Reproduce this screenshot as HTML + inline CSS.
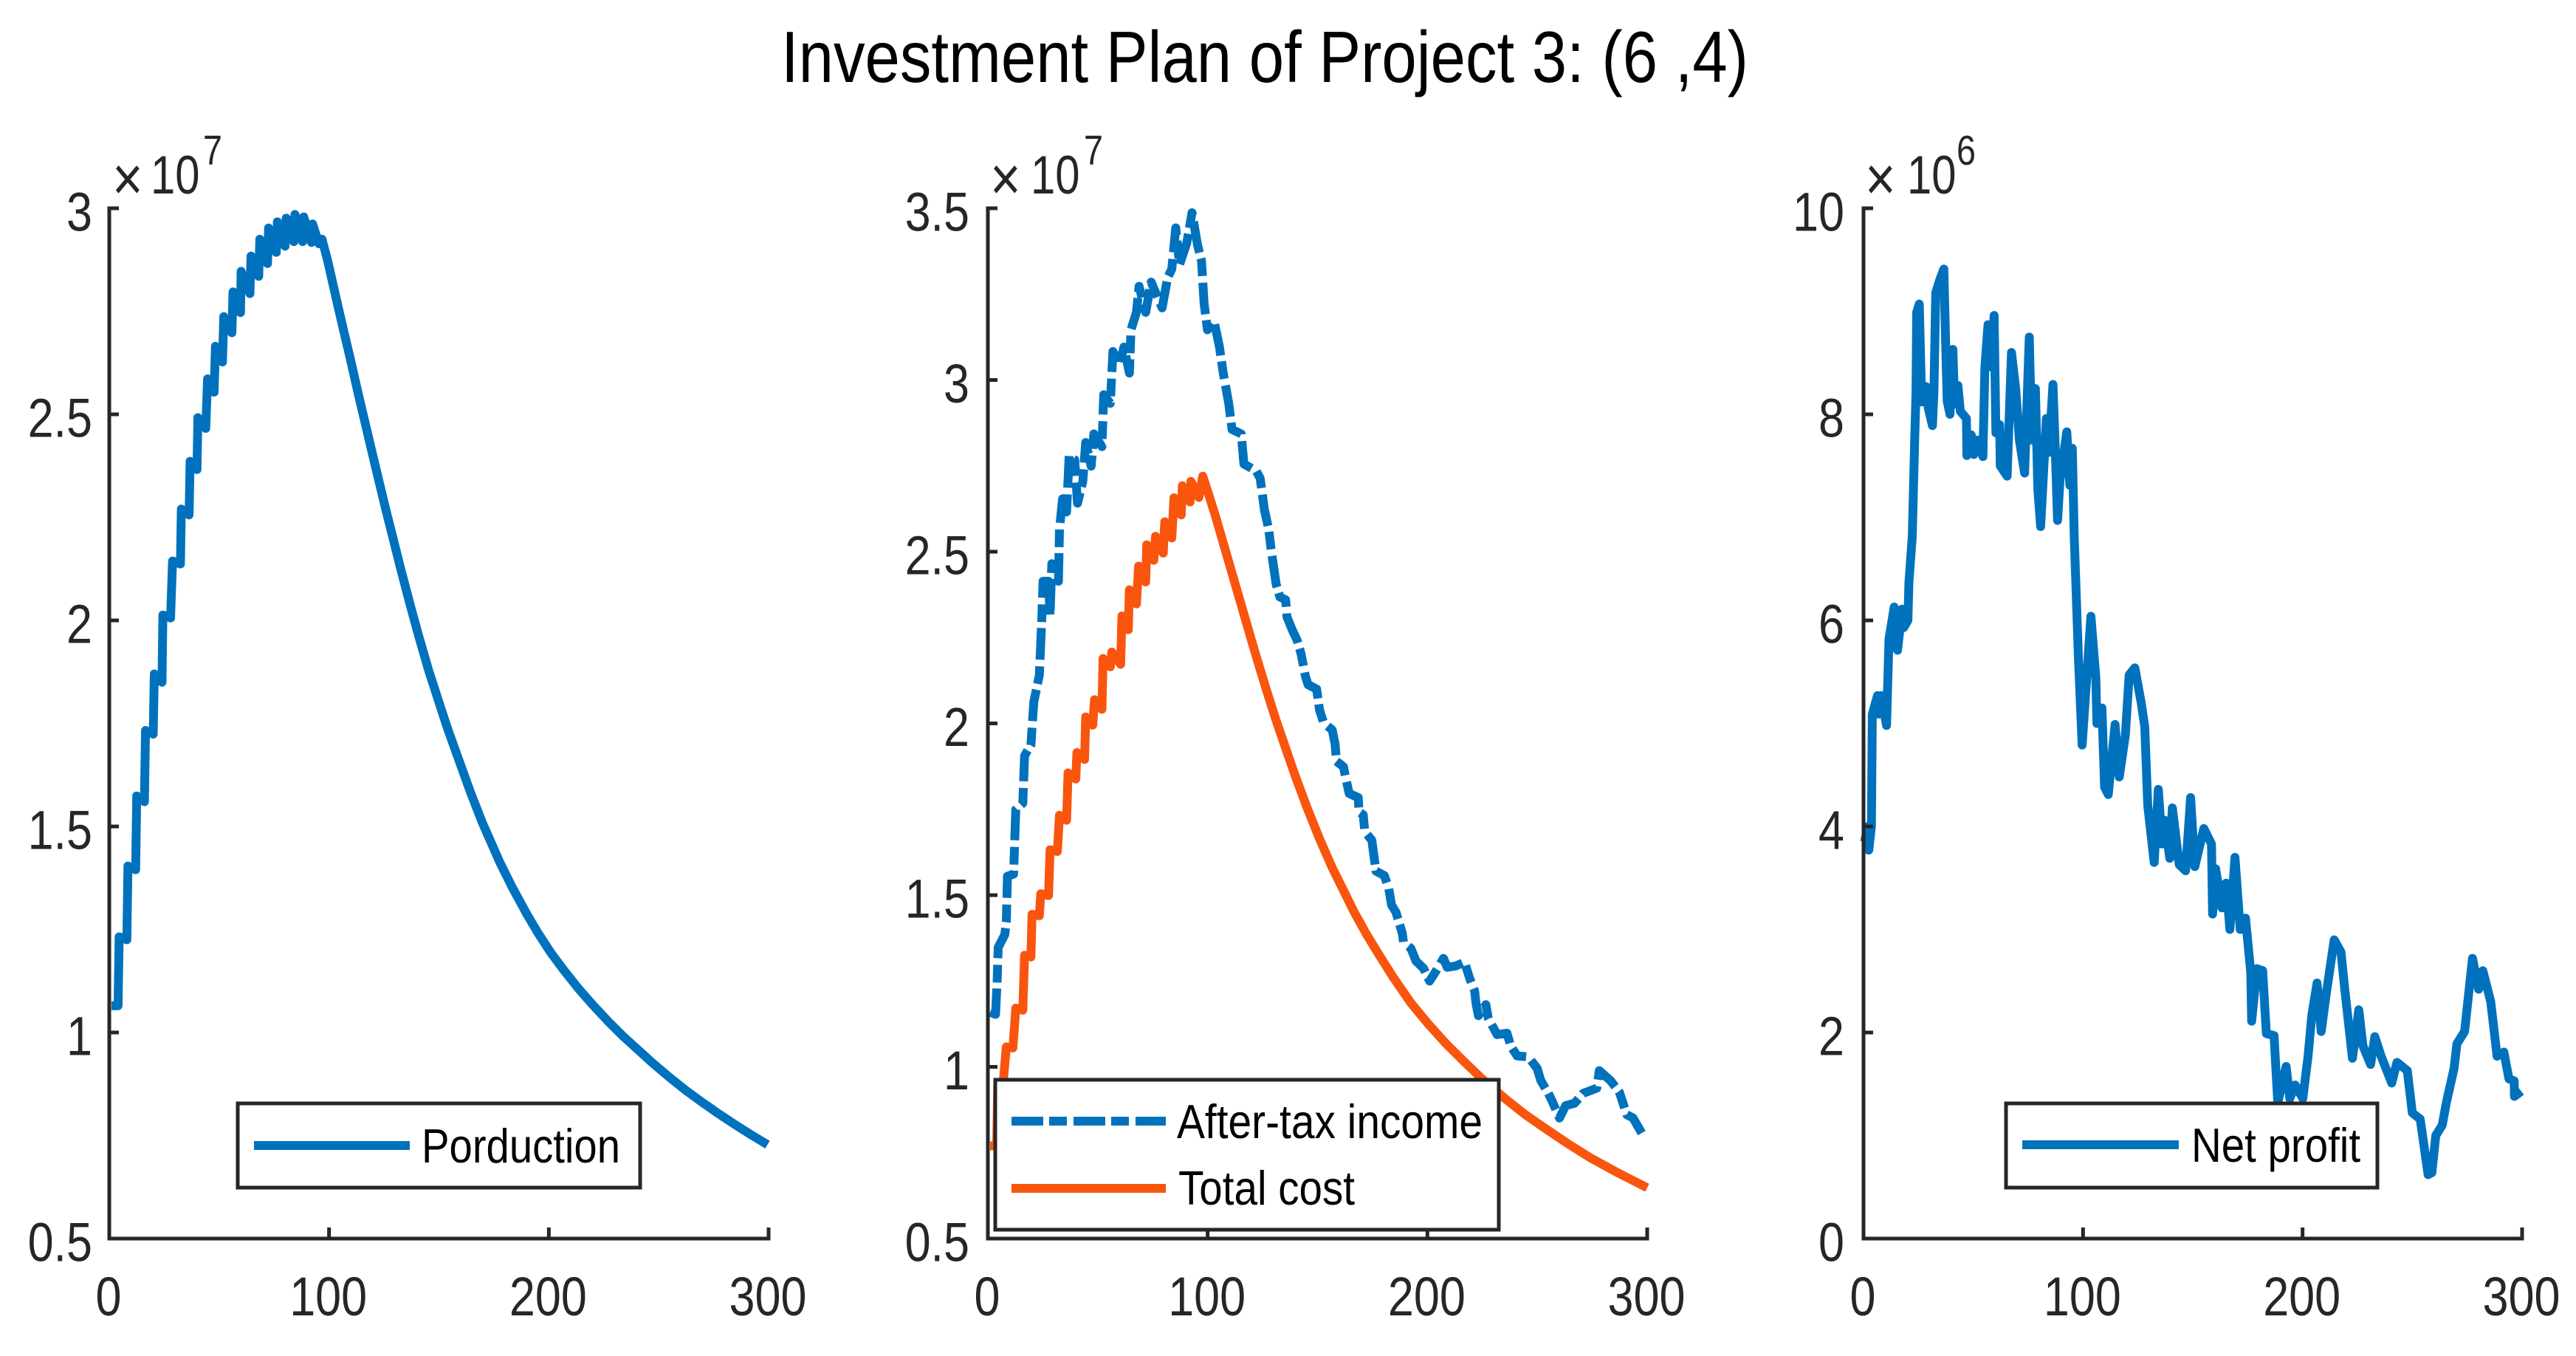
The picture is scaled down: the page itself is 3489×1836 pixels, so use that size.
<!DOCTYPE html>
<html lang="en">
<head>
<meta charset="utf-8">
<title>Investment Plan of Project 3</title>
<style>
html,body{margin:0;padding:0;background:#fff}
svg{display:block;font-family:"Liberation Sans",Arial,sans-serif}
</style>
</head>
<body>
<svg id="chart" xmlns="http://www.w3.org/2000/svg" width="3489" height="1836" viewBox="0 0 3489 1836">
<rect width="3489" height="1836" fill="#fff"/>
<text x="1058" y="111" font-size="98" fill="#000" textLength="1310" lengthAdjust="spacingAndGlyphs">Investment Plan of Project 3: (6 ,4)</text>
</svg>
<script>
const xTicks = [0, 100, 200, 300];
const xTickLabels = ['0', '100', '200', '300'];

const productionTicks = [0.5, 1, 1.5, 2, 2.5, 3];
const productionTickLabels = ['0.5', '1', '1.5', '2', '2.5', '3'];
const incomeTicks = [0.5, 1, 1.5, 2, 2.5, 3, 3.5];
const incomeTickLabels = ['0.5', '1', '1.5', '2', '2.5', '3', '3.5'];
const profitTicks = [0, 2, 4, 6, 8, 10];
const profitTickLabels = ['0', '2', '4', '6', '8', '10'];

const productionX = [1,4,4.5,8,8.5,12,12.5,16,16.5,20,20.5,24,24.4,27.9,28.8,32.4,32.8,36.3,36.8,39.9,40.3,43.9,44.7,47.7,48.3,51.5,52.1,55.8,56.3,59.7,60,64,64.5,68,68.5,72,72.5,76,76.5,80,80.5,84,84.5,88,88.5,92,92.5,95.4,96.8,99.4,101.7,104.2,107,109.8,112.3,114.6,117.3,120.1,122.9,125.9,128.1,132.9,136.8,140.6,145.3,150.7,154.1,158.8,164.4,169.7,177.6,183.2,189.9,195,201,207,213.6,220,227,234,241,247,254.5,262,269.4,277,284.3,292,299.5];
const productionY = [1.065,1.065,1.232,1.225,1.404,1.395,1.574,1.56,1.733,1.724,1.87,1.85,2.013,2.006,2.144,2.137,2.27,2.256,2.386,2.366,2.492,2.466,2.586,2.554,2.665,2.627,2.737,2.698,2.797,2.747,2.847,2.793,2.884,2.835,2.925,2.866,2.952,2.893,2.967,2.908,2.976,2.919,2.985,2.919,2.979,2.917,2.962,2.914,2.925,2.872,2.818,2.759,2.695,2.632,2.573,2.52,2.459,2.396,2.334,2.267,2.221,2.119,2.04,1.966,1.879,1.79,1.735,1.665,1.582,1.51,1.414,1.354,1.288,1.242,1.193,1.15,1.106,1.067,1.027,0.99,0.956,0.927,0.893,0.861,0.832,0.804,0.778,0.752,0.728];

const incomeX = [1,3.5,4.2,4.7,7.7,8.4,8.9,11.7,12.7,15.9,16.7,19.6,20.9,23.4,24.6,25.1,27.6,28.3,29.1,32.1,32.6,34,35.8,37,39.5,40.8,43.2,44.5,47,48.2,51.9,52.7,55.7,56.9,59.9,61.9,64.4,65.1,67.6,68.8,71.8,74.3,79.3,81.8,83.7,85.5,87.2,90.5,92.9,95.4,97.2,98.4,99.9,102.9,105.4,107.1,109.6,111.1,115.3,116.5,122,123.9,125.8,127.8,129,131.2,132.9,135.5,136.1,138.7,140.6,142.5,144.5,145.7,149.6,150.9,152.8,156.7,158,158.6,161.8,163.1,164.4,168.5,168.9,170.8,171.5,174.7,176.6,180.4,182.4,183.7,185.7,188.6,189.1,192.5,194.8,198.2,201,203.9,207.3,209,213,216.9,219.2,221.5,222.1,223.2,226.6,227.7,231.7,236.2,237.9,240.8,245.9,249.9,251.6,255,256.7,260.1,262.9,266.9,270.9,277.1,278.2,283.3,287.3,290.7,293.6,297.5];
const incomeY = [1.159,1.153,1.247,1.348,1.385,1.423,1.555,1.561,1.749,1.768,1.906,1.937,2.063,2.14,2.313,2.414,2.414,2.313,2.465,2.414,2.566,2.654,2.616,2.78,2.768,2.641,2.705,2.818,2.749,2.843,2.806,2.957,2.932,3.083,3.045,3.096,3.02,3.146,3.197,3.273,3.197,3.285,3.21,3.298,3.323,3.443,3.336,3.399,3.487,3.393,3.348,3.222,3.146,3.172,3.096,3.02,2.932,2.856,2.843,2.755,2.736,2.714,2.623,2.565,2.5,2.405,2.368,2.36,2.31,2.269,2.244,2.203,2.137,2.113,2.1,2.039,2.002,1.981,1.94,1.89,1.874,1.833,1.796,1.784,1.742,1.734,1.685,1.66,1.57,1.557,1.52,1.471,1.45,1.388,1.363,1.345,1.308,1.287,1.25,1.279,1.316,1.29,1.294,1.305,1.258,1.221,1.185,1.149,1.181,1.141,1.094,1.098,1.061,1.032,1.029,0.996,0.96,0.923,0.901,0.851,0.887,0.894,0.923,0.938,0.989,0.96,0.927,0.861,0.851,0.807];

const costX = [1,4,4.5,7,8.4,11.4,12.7,15.9,16.7,19.6,20.1,23.4,24.1,27.6,28.3,31.6,32.6,35.8,36.5,40,40.5,44,44.5,47.7,48.5,51.9,52.4,55.7,56.4,60.4,61,63.9,64.4,67.6,68.6,71.8,72.3,75.5,76.3,79.8,80.5,83.7,84.7,88,88.5,92,92.4,96,97.8,103.4,109.2,113,117.5,122,126.5,131,135.5,140,145.1,150.9,156.7,163.2,166.4,172.1,177.8,184.5,192.5,200.4,208.4,217.5,225.4,235.6,244.7,254.9,264,274.2,285.6,300];
const costY = [0.77,0.77,0.95,0.955,1.058,1.055,1.171,1.165,1.325,1.32,1.444,1.44,1.504,1.499,1.632,1.627,1.733,1.718,1.856,1.838,1.915,1.895,2.019,1.995,2.069,2.041,2.189,2.165,2.208,2.172,2.313,2.273,2.389,2.348,2.458,2.412,2.52,2.475,2.545,2.496,2.587,2.54,2.657,2.607,2.692,2.645,2.705,2.658,2.72,2.607,2.479,2.395,2.296,2.197,2.103,2.012,1.928,1.845,1.757,1.664,1.58,1.496,1.454,1.388,1.328,1.26,1.186,1.125,1.068,1.01,0.962,0.906,0.86,0.815,0.776,0.735,0.695,0.648];

const profitX = [0.5,2,2.4,3.6,4,6.4,6.9,8,10.5,11.6,14,15.5,17.6,18.3,20.2,20.7,22.2,23.3,23.9,24.2,25.4,26.1,26.5,28.4,29.5,31.4,32.1,32.9,34.8,36.6,37.4,38.1,39.4,40.7,41.5,43,44.1,46.9,47.1,49.1,50.2,51.9,54.4,55.3,56.7,58.1,59.5,60.3,62,62.3,65.4,67.4,69.3,71,73.4,75.5,76.6,78.3,79.4,80.7,83.3,84.4,86.3,87.2,88.4,89.5,92.6,94,95.1,96,97.9,99.6,103.6,105.8,106.3,108.6,109.8,111.5,114.6,116.5,119.3,121,123.6,126.5,128.1,129.5,132.4,134.3,136,137.2,139.5,140.7,143.8,146.7,149,150.9,155,158.5,159,160.4,163.3,165.2,166.9,169.2,171.6,174,176.4,176.8,179.2,181.8,183.5,187,188.7,192.5,194.2,196.6,200.1,202.5,204.2,206.6,208.5,210.8,214.4,217.5,219.2,222.7,225.6,227.5,231,232.9,235.8,240.6,243,247.7,250,253.6,257.2,258.9,260.7,263.6,265.5,269,270.3,273.8,277.4,280.2,282.1,285.7,288.6,291.7,294,296.4,296.5,299.6];
const profitY = [3.85,4.0,3.77,4.0,5.09,5.27,5.09,5.27,4.98,5.82,6.13,5.71,6.11,5.93,6.0,6.37,6.81,7.75,8.22,8.99,9.07,8.46,8.12,8.27,8.06,7.89,8.22,9.18,9.31,9.41,8.7,8.13,8.0,8.63,8.1,8.28,8.03,7.96,7.6,7.8,7.61,7.75,7.59,8.46,8.87,8.46,8.96,7.82,7.9,7.5,7.4,8.6,8.25,7.75,7.43,8.75,7.75,8.25,7.27,6.91,7.96,7.63,8.29,7.75,6.97,7.36,7.83,7.31,7.67,6.81,5.63,4.79,6.04,5.45,5.0,5.15,4.38,4.31,4.99,4.48,4.89,5.47,5.54,5.2,4.97,4.2,3.65,4.36,3.83,4.06,3.69,4.18,3.63,3.57,4.28,3.61,3.98,3.83,3.15,3.59,3.21,3.45,3.0,3.7,3.0,3.11,2.58,2.11,2.62,2.6,1.99,1.97,1.32,1.67,1.36,1.49,1.36,1.77,2.17,2.48,2.01,2.38,2.9,2.78,2.42,1.75,2.22,1.87,1.69,1.96,1.77,1.51,1.71,1.63,1.22,1.16,0.62,0.64,1.0,1.1,1.32,1.65,1.89,2.01,2.72,2.42,2.6,2.3,1.77,1.81,1.55,1.53,1.38,1.43];

const svg = document.getElementById('chart');
const NS = 'http://www.w3.org/2000/svg';
const BLUE = '#0072BD';
const ORANGE = '#F9550E';
const INK = '#262626';
const PLOT_TOP = 282;
const PLOT_BOTTOM = 1677;

function scaleX(value, left, right) {
  return left + (value - xTicks[0]) / (xTicks[xTicks.length - 1] - xTicks[0]) * (right - left);
}
function scaleY(value, ticks) {
  const lo = ticks[0];
  const hi = ticks[ticks.length - 1];
  return PLOT_BOTTOM - (value - lo) / (hi - lo) * (PLOT_BOTTOM - PLOT_TOP);
}
function addLine(parent, x1, y1, x2, y2) {
  const el = document.createElementNS(NS, 'line');
  el.setAttribute('x1', x1);
  el.setAttribute('y1', y1);
  el.setAttribute('x2', x2);
  el.setAttribute('y2', y2);
  el.setAttribute('stroke', INK);
  el.setAttribute('stroke-width', 5);
  parent.appendChild(el);
  return el;
}
function addText(parent, content, x, y, size, anchor, sx, fill) {
  const el = document.createElementNS(NS, 'text');
  el.setAttribute('transform', 'translate(' + x + ',' + y + ') scale(' + sx + ',1)');
  el.setAttribute('font-size', size);
  el.setAttribute('text-anchor', anchor);
  el.setAttribute('fill', fill);
  el.textContent = content;
  parent.appendChild(el);
  return el;
}
function addSeries(parent, xs, ys, ticks, left, right, color, dash) {
  const el = document.createElementNS(NS, 'polyline');
  const pts = xs.map(function (v, i) {
    return scaleX(v, left, right).toFixed(1) + ',' + scaleY(ys[i], ticks).toFixed(1);
  });
  el.setAttribute('points', pts.join(' '));
  el.setAttribute('fill', 'none');
  el.setAttribute('stroke', color);
  el.setAttribute('stroke-width', 12);
  el.setAttribute('stroke-linejoin', 'round');
  if (dash) el.setAttribute('stroke-dasharray', dash);
  parent.appendChild(el);
  return el;
}
function drawAxes(g, left, right, ticks, labels, labelRight) {
  const yAxis = addLine(g, left, PLOT_TOP - 2.5, left, PLOT_BOTTOM + 2.5);
  
  
  const xAxis = addLine(g, left - 2.5, PLOT_BOTTOM, right + 2.5, PLOT_BOTTOM);
  
  
  ticks.forEach(function (t, i) {
    const y = scaleY(t, ticks);
    const mark = addLine(g, left, y, left + 13, y);
    
    
    const lab = addText(g, labels[i], labelRight, y + 30.5, 74, 'end', 0.85, INK);
    
    
  });
  xTicks.forEach(function (t, i) {
    const x = scaleX(t, left, right);
    const mark = addLine(g, x, PLOT_BOTTOM, x, PLOT_BOTTOM - 15);
    
    
    const lab = addText(g, xTickLabels[i], x - 1, 1781, 74, 'middle', 0.85, INK);
    
    
  });
}
function drawExponent(g, timesX, tenX, powX, power) {
  const times = addText(g, '×', timesX, 271, 84, 'start', 0.85, INK);
  
  
  const ten = addText(g, '10', tenX, 262, 73, 'start', 0.82, INK);
  
  
  const pow = addText(g, power, powX, 223, 57, 'start', 0.82, INK);
  
  
}
function drawLegendBox(g, x, y, w, h) {
  const box = document.createElementNS(NS, 'rect');
  box.setAttribute('x', x);
  box.setAttribute('y', y);
  box.setAttribute('width', w);
  box.setAttribute('height', h);
  box.setAttribute('fill', '#fff');
  box.setAttribute('stroke', INK);
  box.setAttribute('stroke-width', 5);
  
  
  g.appendChild(box);
}
function drawLegendEntry(g, x1, x2, y, color, dash, label, textX, baseline, textWidth) {
  const sample = document.createElementNS(NS, 'line');
  sample.setAttribute('x1', x1);
  sample.setAttribute('x2', x2);
  sample.setAttribute('y1', y);
  sample.setAttribute('y2', y);
  sample.setAttribute('stroke', color);
  sample.setAttribute('stroke-width', 12);
  if (dash) sample.setAttribute('stroke-dasharray', dash);
  
  
  g.appendChild(sample);
  const txt = document.createElementNS(NS, 'text');
  txt.setAttribute('x', textX);
  txt.setAttribute('y', baseline);
  txt.setAttribute('font-size', 65);
  txt.setAttribute('fill', '#000');
  txt.setAttribute('textLength', textWidth);
  txt.setAttribute('lengthAdjust', 'spacingAndGlyphs');
  txt.textContent = label;
  
  
  g.appendChild(txt);
}
function makeGroup(name) {
  const g = document.createElementNS(NS, 'g');
  
  
  svg.appendChild(g);
  return g;
}

/* Panel 1: production */
const p1 = makeGroup('production-panel');
const p1Line = addSeries(p1, productionX, productionY, productionTicks, 148, 1041, BLUE, null);


drawAxes(p1, 148, 1041, productionTicks, productionTickLabels, 125);
drawExponent(p1, 152, 204, 275, '7');
drawLegendBox(p1, 322, 1494, 545, 114);
drawLegendEntry(p1, 344, 555, 1551, BLUE, null, 'Porduction', 571, 1574, 269);

/* Panel 2: income and cost */
const p2 = makeGroup('income-cost-panel');
const p2Income = addSeries(p2, incomeX, incomeY, incomeTicks, 1338, 2231, BLUE, '43 8 24 9');


const p2Cost = addSeries(p2, costX, costY, incomeTicks, 1338, 2231, ORANGE, null);


drawAxes(p2, 1338, 2231, incomeTicks, incomeTickLabels, 1313);
drawExponent(p2, 1341, 1396, 1468, '7');
drawLegendBox(p2, 1348, 1462, 682, 203);
drawLegendEntry(p2, 1370, 1579, 1518, BLUE, '43 8 24 9', 'After-tax income', 1594, 1541, 414);
drawLegendEntry(p2, 1370, 1579, 1609, ORANGE, null, 'Total cost', 1596, 1631, 239);

/* Panel 3: net profit */
const p3 = makeGroup('net-profit-panel');
const p3Line = addSeries(p3, profitX, profitY, profitTicks, 2524, 3416, BLUE, null);


drawAxes(p3, 2524, 3416, profitTicks, profitTickLabels, 2498);
drawExponent(p3, 2526, 2583, 2650, '6');
drawLegendBox(p3, 2717, 1494, 503, 114);
drawLegendEntry(p3, 2739, 2951, 1550, BLUE, null, 'Net profit', 2968, 1573, 229);
</script>
</body>
</html>
